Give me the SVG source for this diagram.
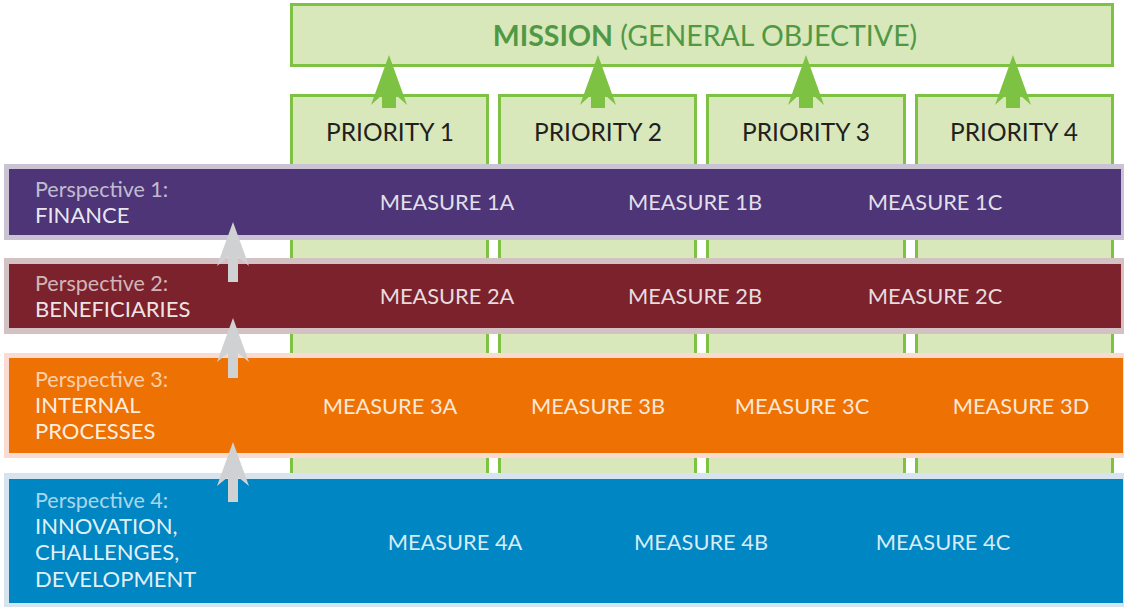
<svg xmlns="http://www.w3.org/2000/svg" width="1124" height="607" viewBox="0 0 1124 607">
<style>
text{font-family:Lato,"Open Sans","Liberation Sans",sans-serif}
.box{fill:#d9e8bb;stroke:#7dc242;stroke-width:3}
.pri{font-size:24.5px;fill:#231f20;text-anchor:middle}
.ms{font-size:21.8px;text-anchor:middle;fill:#fff;fill-opacity:0.85}
.ph{font-size:21.5px;fill:#fff;fill-opacity:0.68}
.pl{font-size:22px;fill:#fff;fill-opacity:0.9}
.ga{fill:#7dc242}
.gr{fill:#d0d1d3}
</style>
<defs>
<polygon id="garrow" points="0,0 18,50 7,40 7,53 -7,53 -7,40 -18,50"/>
<polygon id="rarrow" points="0,0 16,44 5,35 5,60 -5,60 -5,35 -16,44"/>
</defs>
<g id="mission">
<rect class="box" x="291.5" y="4.5" width="821" height="61"/>
<text x="705" y="46" font-size="28.5" text-anchor="middle" fill="#519845"><tspan font-weight="bold">MISSION</tspan> (GENERAL OBJECTIVE)</text>
</g>
<g id="priority1"><rect class="box" x="291.5" y="95.5" width="196" height="380"/><text class="pri" x="390" y="141">PRIORITY 1</text></g>
<g id="priority2"><rect class="box" x="499.5" y="95.5" width="196" height="380"/><text class="pri" x="598" y="141">PRIORITY 2</text></g>
<g id="priority3"><rect class="box" x="707.5" y="95.5" width="197" height="380"/><text class="pri" x="806" y="141">PRIORITY 3</text></g>
<g id="priority4"><rect class="box" x="916.5" y="95.5" width="196" height="380"/><text class="pri" x="1014" y="141">PRIORITY 4</text></g>
<g id="connectors">
<use href="#garrow" class="ga" x="389" y="55"/>
<use href="#garrow" class="ga" x="598" y="55"/>
<use href="#garrow" class="ga" x="806" y="55"/>
<use href="#garrow" class="ga" x="1013" y="55"/>
</g>
<g id="perspective1">
<rect x="4" y="164" width="1122" height="76" fill="#c9c3d3"/>
<rect x="9" y="169" width="1112" height="66" fill="#4d3577"/>
<text class="ph" x="35" y="197">Perspective 1:</text>
<text class="pl" x="35" y="223">FINANCE</text>
<text class="ms" x="447" y="210">MEASURE 1A</text>
<text class="ms" x="695" y="210">MEASURE 1B</text>
<text class="ms" x="935" y="210">MEASURE 1C</text>
</g>
<g id="perspective2">
<rect x="4" y="258" width="1122" height="76" fill="#d4c1c4"/>
<rect x="9" y="264" width="1112" height="64" fill="#7b222d"/>
<text class="ph" x="35" y="291">Perspective 2:</text>
<text class="pl" x="35" y="317">BENEFICIARIES</text>
<text class="ms" x="447" y="304">MEASURE 2A</text>
<text class="ms" x="695" y="304">MEASURE 2B</text>
<text class="ms" x="935" y="304">MEASURE 2C</text>
</g>
<g id="perspective3">
<rect x="4" y="353" width="1122" height="105" fill="#fadbd2"/>
<rect x="9" y="358" width="1114" height="95" fill="#ee7203"/>
<text class="ph" x="35" y="387">Perspective 3:</text>
<text class="pl" x="35" y="413">INTERNAL</text>
<text class="pl" x="35" y="439">PROCESSES</text>
<text class="ms" x="390" y="414">MEASURE 3A</text>
<text class="ms" x="598" y="414">MEASURE 3B</text>
<text class="ms" x="802" y="414">MEASURE 3C</text>
<text class="ms" x="1021" y="414">MEASURE 3D</text>
</g>
<g id="perspective4">
<rect x="4" y="473" width="1122" height="136" fill="#d6e4ef"/>
<rect x="9" y="479" width="1114" height="124" fill="#0086c3"/>
<text class="ph" x="35" y="508">Perspective 4:</text>
<text class="pl" x="35" y="534">INNOVATION,</text>
<text class="pl" x="35" y="560">CHALLENGES,</text>
<text class="pl" x="35" y="587">DEVELOPMENT</text>
<text class="ms" x="455" y="550">MEASURE 4A</text>
<text class="ms" x="701" y="550">MEASURE 4B</text>
<text class="ms" x="943" y="550">MEASURE 4C</text>
</g>
<g id="connectors-gray">
<use href="#rarrow" class="gr" x="233" y="222"/>
<use href="#rarrow" class="gr" x="233" y="318"/>
<use href="#rarrow" class="gr" x="233" y="442"/>
</g>
</svg>
